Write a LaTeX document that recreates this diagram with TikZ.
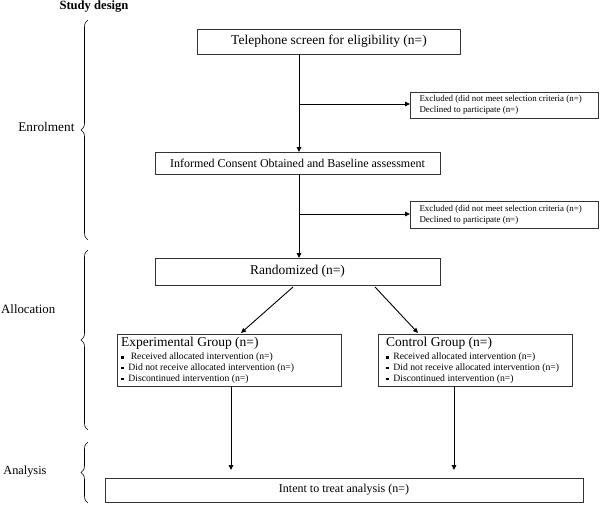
\documentclass[tikz,border=0pt]{standalone}
\usepackage{fontspec}
\setmainfont{Liberation Serif}
\usetikzlibrary{arrows.meta,decorations.pathreplacing}
\newcommand{\sqbul}{\raisebox{0.3ex}{\rule{2.3pt}{2.3pt}}}
\begin{document}
\begin{tikzpicture}[x=1pt,y=-1pt,
  box/.style={draw=black!80,line width=0.9pt,inner sep=0pt},
  conn/.style={line width=0.9pt,-{Triangle[length=5pt,width=4.5pt]}},
  brc/.style={line width=0.6pt,decorate,decoration={brace,amplitude=7pt}},
  bigf/.style={font=\fontsize{13.5}{15}\selectfont},
  mainf/.style={font=\fontsize{12}{14}\selectfont},
  smallf/.style={font=\fontsize{8.9}{11}\selectfont},
  bulf/.style={font=\fontsize{9.7}{10.6}\selectfont},
  lab/.style={font=\fontsize{13.3}{15}\selectfont,anchor=east}]
\useasboundingbox (0,0) rectangle (600,504);
% title
\node[font=\bfseries\fontsize{12.6}{14}\selectfont,anchor=north,inner sep=0pt] (title) at (94,1) {Study design};
% boxes
\draw[box] (197,29) rectangle (460,54);
\node[bigf] (tel) at (329,41.5) {Telephone screen for eligibility (n=)};
\coordinate (telb) at (299,54);
\draw[box] (410,92) rectangle (598,118);
\node[smallf,align=left,anchor=west] (ex1) at (416,105) {Excluded (did not meet selection criteria (n=)\\Declined to participate (n=)};
\coordinate (ex1w) at (410,104);
\draw[box] (155,152) rectangle (440,174);
\node[mainf] (inf) at (297.5,163) {Informed Consent Obtained and Baseline assessment};
\coordinate (inft) at (299,152);
\coordinate (infb) at (299,174);
\draw[box] (410,201) rectangle (598,228);
\node[smallf,align=left,anchor=west] (ex2) at (416,214.5) {Excluded (did not meet selection criteria (n=)\\Declined to participate (n=)};
\coordinate (ex2w) at (410,214);
\draw[box] (155,258) rectangle (440,285);
\node[bigf] (rand) at (297.5,271.5) {Randomized (n=)};
\coordinate (randt) at (299,258);
% experimental
\draw[box] (117,334) rectangle (341,386);
\node[bigf,anchor=north west,inner sep=0pt] (expt) at (121,337) {Experimental Group (n=)};
\node[bulf,align=left,anchor=north west,inner sep=0pt] (expb) at (121,353) {\sqbul\ \ \ Received allocated intervention (n=)\\\sqbul\ \ Did not receive allocated intervention (n=)\\\sqbul\ \ Discontinued intervention (n=)};
% control
\draw[box] (378,334) rectangle (572,386);
\node[bigf,anchor=north west,inner sep=0pt] (cont) at (386,337) {Control Group (n=)};
\node[bulf,align=left,anchor=north west,inner sep=0pt] (conb) at (386,353) {\sqbul\ \ Received allocated intervention (n=)\\\sqbul\ \ Did not receive allocated intervention (n=)\\\sqbul\ \ Discontinued intervention (n=)};
% intent
\draw[box] (105,478) rectangle (583,502);
\node[mainf] (itt) at (344,490) {Intent to treat analysis (n=)};
% connectors
\coordinate (j1) at (299,104);
\coordinate (j2) at (299,214);
\draw[conn] (telb) -- (inft);
\draw[conn] (j1) -- (ex1w);
\draw[conn] (infb) -- (randt);
\draw[conn] (j2) -- (ex2w);
\coordinate (r1) at (293,287);
\coordinate (r2) at (375,287);
\coordinate (e1) at (241,333);
\coordinate (c1) at (418,333);
\draw[conn] (r1) -- (e1);
\draw[conn] (r2) -- (c1);
\coordinate (eb) at (231,386);
\coordinate (cb) at (454,386);
\coordinate (it1) at (231,470);
\coordinate (it2) at (454,470);
\draw[conn] (eb) -- (it1);
\draw[conn] (cb) -- (it2);
% braces and labels
\draw[brc] (88,240) -- (88,20);
\draw[brc] (88,430) -- (88,250);
\draw[brc] (88,503) -- (88,442);
\node[lab] (enr) at (78,127) {Enrolment};
\node[lab,anchor=west,font=\fontsize{12.8}{14}\selectfont,inner sep=0pt] (alloc) at (1,309) {Allocation};
\node[lab,font=\fontsize{12.3}{14}\selectfont] (ana) at (50,472) {Analysis};
\end{tikzpicture}
\end{document}
